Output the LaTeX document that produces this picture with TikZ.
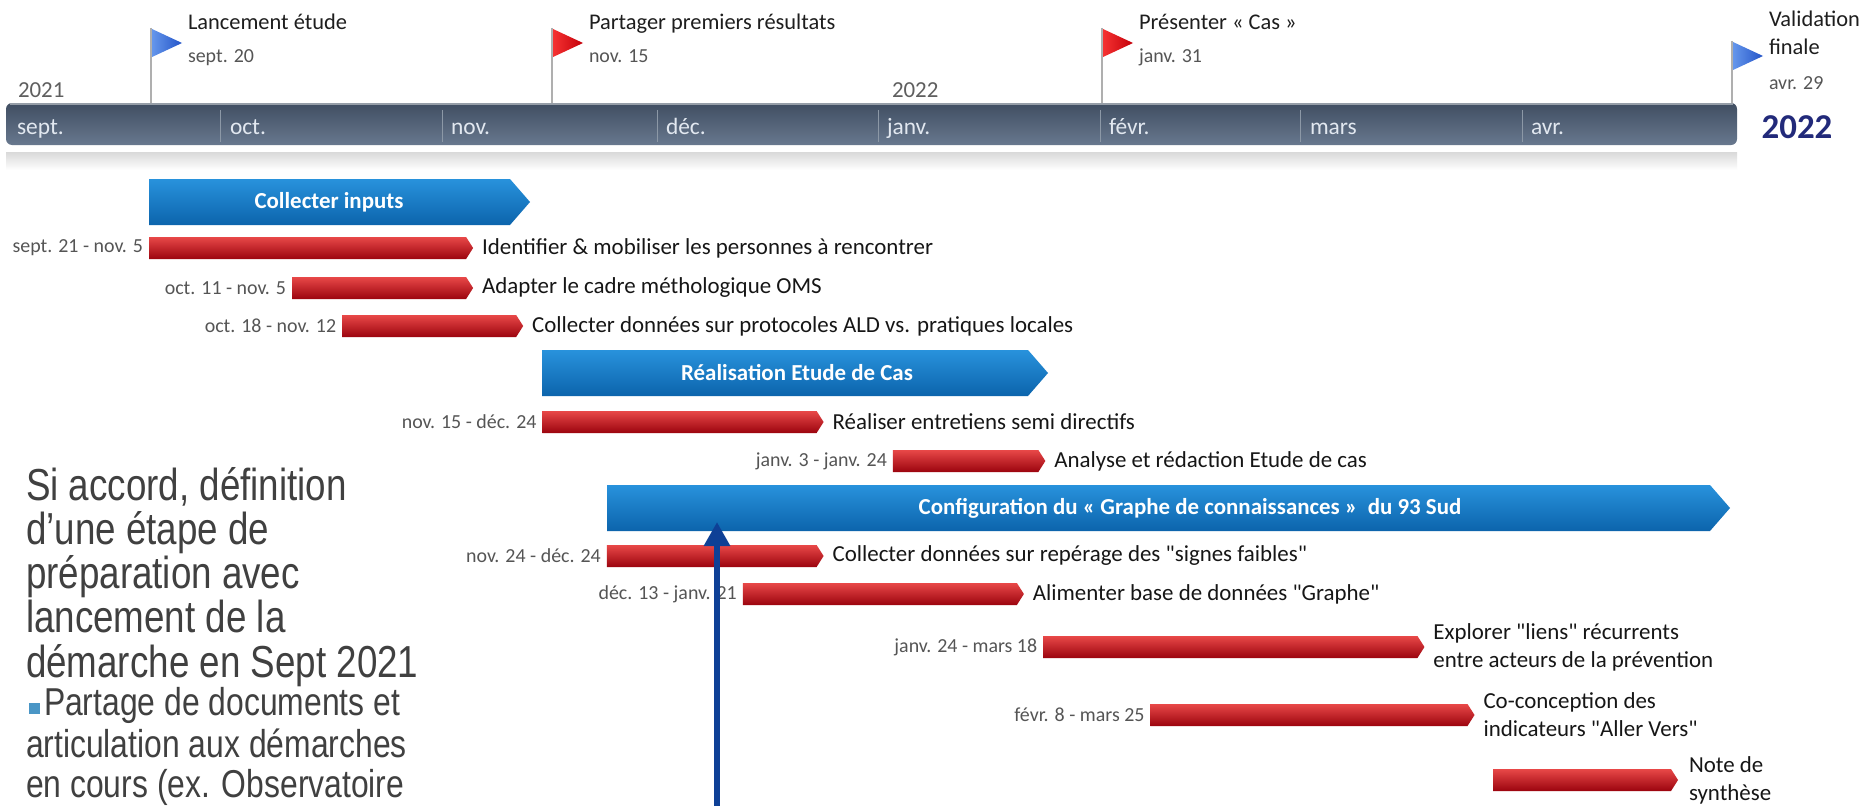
\documentclass[tikz,border=0pt]{standalone}
\usepackage{fontspec}
\setmainfont{Carlito}
\newfontfamily\leftfont[FakeStretch=0.82]{Liberation Sans}
\usetikzlibrary{arrows.meta}

\definecolor{titleC}{RGB}{30,30,30}
\definecolor{dateC}{RGB}{85,85,85}
\definecolor{yearC}{RGB}{95,95,95}
\definecolor{monthC}{RGB}{226,232,240}
\definecolor{tlTop}{RGB}{64,78,98}
\definecolor{tlBot}{RGB}{104,120,142}
\definecolor{tlRim}{RGB}{150,158,168}
\definecolor{tlDiv}{RGB}{140,152,166}
\definecolor{poleC}{RGB}{175,175,175}
\definecolor{bigYear}{RGB}{34,42,122}
\definecolor{phTop}{RGB}{40,146,220}
\definecolor{phBot}{RGB}{12,100,172}
\definecolor{rdTop}{RGB}{232,72,72}
\definecolor{rdMid}{RGB}{205,18,28}
\definecolor{rdBot}{RGB}{155,4,14}
\definecolor{flagBlueA}{RGB}{100,150,235}
\definecolor{flagBlueB}{RGB}{36,84,200}
\definecolor{flagRedA}{RGB}{245,50,50}
\definecolor{flagRedB}{RGB}{196,0,10}
\definecolor{lblC}{RGB}{22,22,22}
\definecolor{leftC}{RGB}{64,64,64}
\definecolor{bulletC}{RGB}{74,150,198}
\definecolor{pointerC}{RGB}{14,64,150}

\newcommand\qq{\textquotedbl}
% day index counted from 1 Sept 2021; one day = 7.153 px
\newcommand\redbar[6]{%
  \pgfmathsetmacro\xa{6+7.153*#2}%
  \pgfmathsetmacro\xb{7.153*(#3+1)+1}%
  \pgfmathsetmacro\xc{\xb-7}%
  \path[redfill] (\xa,#4-11) -- (\xc,#4-11) -- (\xb,#4) -- (\xc,#4+11) -- (\xa,#4+11) -- cycle;
  \node[datelbl] (#1-date) at (\xa-6,#4) {#5};
  \node[barlbl] (#1) at (\xb+9,#4) {#6};
}
% activity bar without dates, given in px
\newcommand\redbarpx[5]{%
  \pgfmathsetmacro\xc{#3-7}%
  \path[redfill] (#2,#4-11) -- (\xc,#4-11) -- (#3,#4) -- (\xc,#4+11) -- (#2,#4+11) -- cycle;
  \node[barlbl] (#1) at (#3+11,#4) {#5};
}
% phase arrow: name, left x, tip x, top y, bottom y, label x, label
\newcommand\phase[7]{%
  \path[phasefill] (#2,#4) -- (#3-20,#4) -- (#3,{(#4+#5)/2}) -- (#3-20,#5) -- (#2,#5) -- cycle;
  \node[phaselbl] (#1) at (#6,{(#4+#5)/2}) {#7};
}
% milestone flag: pole x, top y, flag colours
\newcommand\flag[4]{%
  \draw[poleC, line width=1.2bp] (#1,#2-1) -- (#1,103);
  \path[left color=#3, right color=#4] (#1+1,#2) -- (#1+31,#2+14) -- (#1+1,#2+28) -- cycle;
}

\begin{document}
\begin{tikzpicture}[x=1bp,y=-1bp,
  every node/.style={inner sep=0pt, outer sep=0pt},
  mstitle/.style={anchor=base west, font=\fontsize{22.5}{26}\selectfont, text=titleC},
  msdate/.style={anchor=base west, font=\fontsize{20}{22}\selectfont, text=dateC},
  yearlbl/.style={anchor=base west, font=\fontsize{23}{26}\selectfont, text=yearC},
  monthlbl/.style={anchor=base west, font=\fontsize{23.5}{26}\selectfont, text=monthC},
  phasefill/.style={top color=phTop, bottom color=phBot},
  phaselbl/.style={font=\bfseries\fontsize{23}{27}\selectfont, text=white},
  redfill/.style={top color=rdTop, middle color=rdMid, bottom color=rdBot},
  datelbl/.style={anchor=east, font=\fontsize{20}{23}\selectfont, text=dateC},
  barlbl/.style={anchor=west, align=left, font=\fontsize{23}{28}\selectfont, text=lblC},
  lefttxt/.style={anchor=base west, font=\leftfont\fontsize{45}{44}\selectfont, text=leftC},
  lefttxtsmall/.style={anchor=base west, font=\leftfont\fontsize{39}{41}\selectfont, text=leftC},
  pointer/.style={draw=pointerC, line width=6bp, -{Triangle[width=25bp,length=24bp]}}]

\useasboundingbox (0,0) rectangle (1868,806);
\fill[white] (0,0) rectangle (1868,806);

% ---------- time scale ----------
\path[top color=tlTop, bottom color=tlBot, rounded corners=6bp] (6,103) rectangle (1737,145);
\draw[tlRim, line width=1.5bp] (10,103.8) -- (1733,103.8);
\path[top color=black!15, bottom color=white] (6,152) rectangle (1737,170);

\foreach \d in {220.6,442.3,657,878.7,1100.4,1300.7,1522.4}
  \draw[tlDiv, line width=0.8bp] (\d,110) -- (\d,142);

\node[monthlbl] (m-sep) at (17,134) {sept.};
\node[monthlbl] (m-oct) at (230,134) {oct.};
\node[monthlbl] (m-nov) at (451,134) {nov.};
\node[monthlbl] (m-dec) at (666,134) {déc.};
\node[monthlbl] (m-jan) at (887,134) {janv.};
\node[monthlbl] (m-feb) at (1109,134) {févr.};
\node[monthlbl] (m-mar) at (1310,134) {mars};
\node[monthlbl] (m-apr) at (1531,134) {avr.};

\node[yearlbl] (y2021) at (18,97) {2021};
\node[yearlbl] (y2022) at (892,97) {2022};
\node[anchor=base, font=\bfseries\fontsize{35}{40}\selectfont, text=bigYear] (yend) at (1797,138) {2022};

% ---------- milestones ----------
\flag{151}{29}{flagBlueA}{flagBlueB}
\flag{552}{29}{flagRedA}{flagRedB}
\flag{1102}{29}{flagRedA}{flagRedB}
\flag{1732}{42}{flagBlueA}{flagBlueB}

\node[mstitle] (ms1) at (188,30) {Lancement étude};
\node[msdate] (ms1-date) at (188,63) {sept. 20};
\node[mstitle] (ms2) at (589,30) {Partager premiers résultats};
\node[msdate] (ms2-date) at (589,63) {nov. 15};
\node[mstitle] (ms3) at (1139,30) {Présenter « Cas »};
\node[msdate] (ms3-date) at (1139,63) {janv. 31};
\node[mstitle] (ms4) at (1769,27) {Validation};
\node[mstitle] (ms4b) at (1769,55) {finale};
\node[msdate] (ms4-date) at (1769,90) {avr. 29};

% ---------- phases and activities ----------
\phase{ph1}{149}{530}{179}{225}{329}{Collecter inputs}
\redbar{a1}{20}{65}{248}{sept. 21 - nov. 5}{Identifier \& mobiliser les personnes à rencontrer}
\redbar{a2}{40}{65}{288}{oct. 11 - nov. 5}{Adapter le cadre méthologique OMS}
\redbar{a3}{47}{72}{326}{oct. 18 - nov. 12}{Collecter données sur protocoles ALD vs. pratiques locales}

\phase{ph2}{542}{1048}{350}{396}{797}{Réalisation Etude de Cas}
\redbar{a4}{75}{114}{422}{nov. 15 - déc. 24}{Réaliser entretiens semi directifs}
\redbar{a5}{124}{145}{461}{janv. 3 - janv. 24}{Analyse et rédaction Etude de cas}

\phase{ph3}{607}{1730}{485}{531}{1190}{Configuration du « Graphe de connaissances »\ \ du 93 Sud}
\redbar{a6}{84}{114}{556}{nov. 24 - déc. 24}{Collecter données sur repérage des \qq signes faibles\qq}
\redbar{a7}{103}{142}{594}{déc. 13 - janv. 21}{Alimenter base de données \qq Graphe\qq}
\redbar{a8}{145}{198}{647}{janv. 24 - mars 18}{Explorer \qq liens\qq\ récurrents\\entre acteurs de la prévention}
\redbar{a9}{160}{205}{715}{févr. 8 - mars 25}{Co-conception des\\indicateurs \qq Aller Vers\qq}
\redbarpx{a10}{1493}{1678}{780}{Note de\\synthèse}

% ---------- side note ----------
\node[lefttxt] (n1) at (26,500) {Si accord, définition};
\node[lefttxt] (n2) at (26,544) {d’une étape de};
\node[lefttxt] (n3) at (26,588) {préparation avec};
\node[lefttxt] (n4) at (26,632) {lancement de la};
\node[lefttxt] (n5) at (26,677) {démarche en Sept 2021};
\fill[bulletC] (29,703) rectangle (40,714);
\node[lefttxtsmall] (n6) at (44,715) {Partage de documents et};
\node[lefttxtsmall] (n7) at (26,757) {articulation aux démarches};
\node[lefttxtsmall] (n8) at (26,797) {en cours (ex. Observatoire};

% ---------- pointer ----------
\coordinate (arrowfoot) at (717,812);
\coordinate (arrowtip) at (717,522);
\draw[pointer] (arrowfoot) -- (arrowtip);

\end{tikzpicture}
\end{document}
